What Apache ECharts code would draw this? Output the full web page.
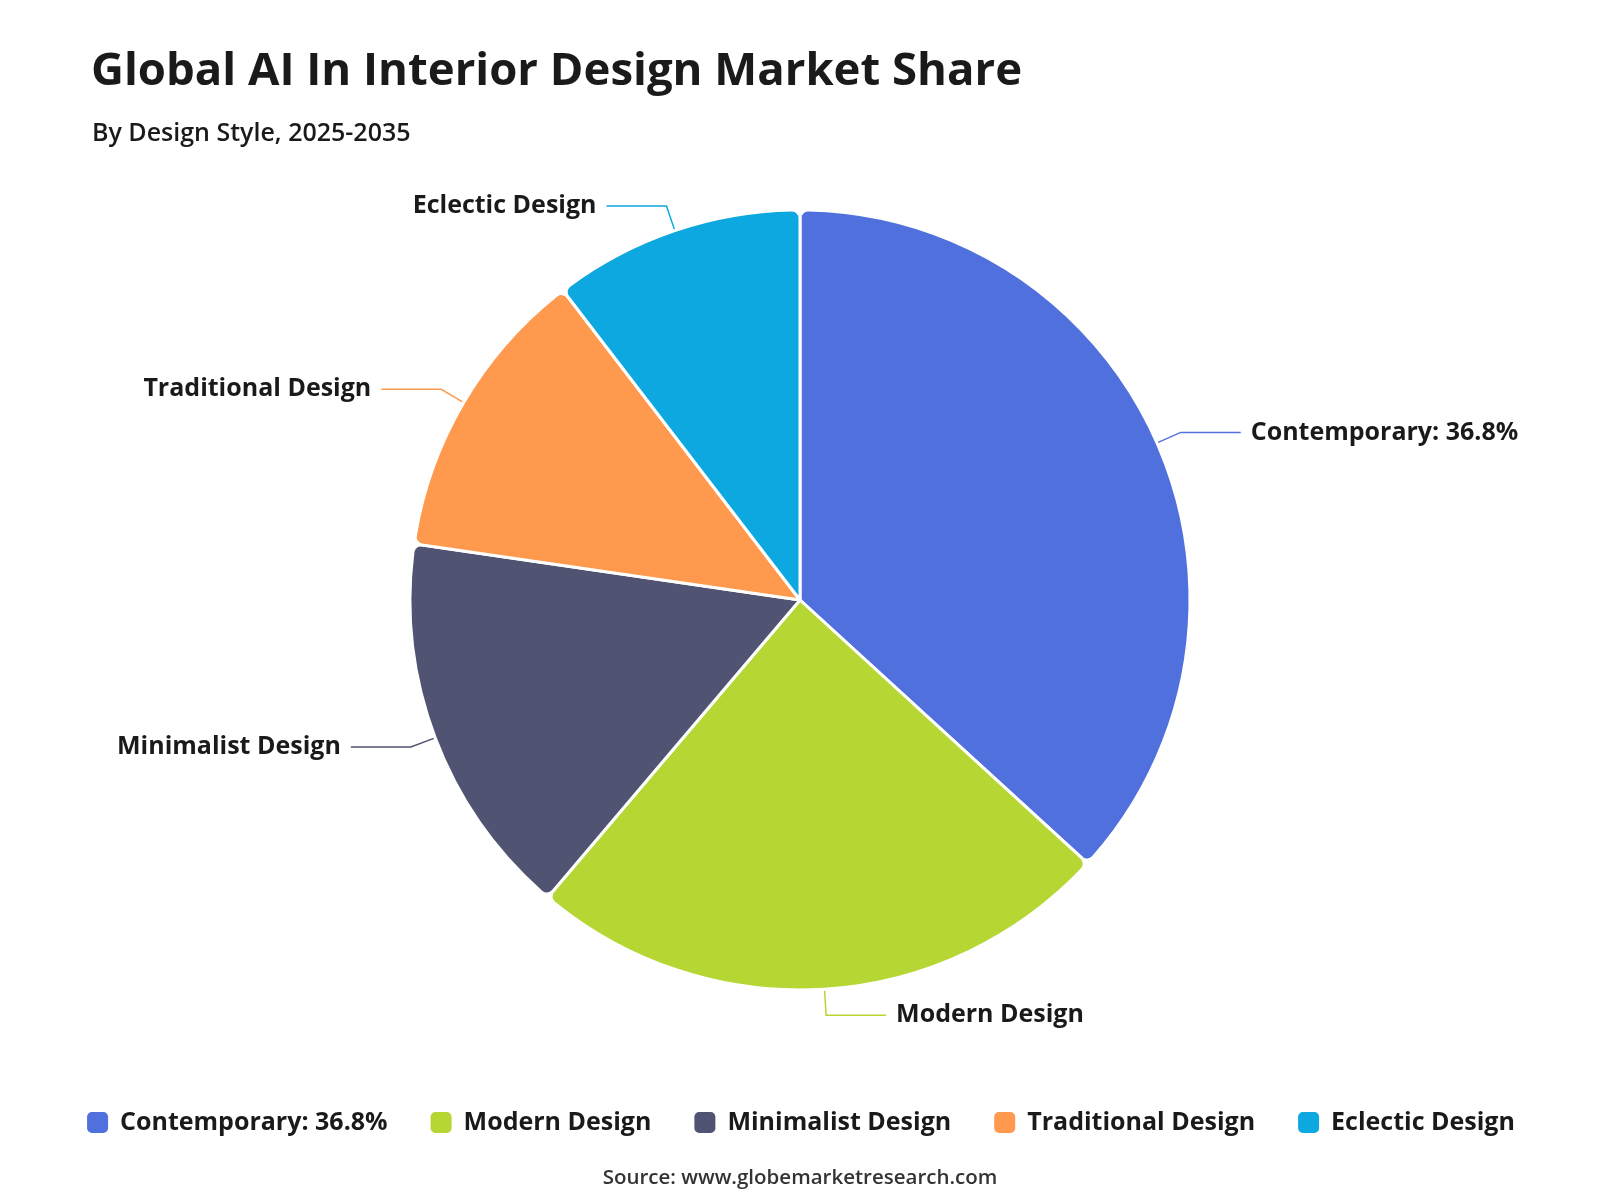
<!DOCTYPE html>
<html>
<head>
<meta charset="utf-8">
<title>Global AI In Interior Design Market Share</title>
<script src="https://cdn.jsdelivr.net/npm/echarts@6/dist/echarts.min.js"></script>
<style>
  html, body { margin: 0; padding: 0; background: #fff; }
  #main { width: 1600px; height: 1200px; }
</style>
</head>
<body>
<div id="main"></div>
<script>
// design styles and their share (%)
var styles = ['Contemporary: 36.8%', 'Modern Design', 'Minimalist Design', 'Traditional Design', 'Eclectic Design'];
var shares = [36.8, 24.4, 16.1, 12.3, 10.4];
var colors = ['#5070dd', '#b6d634', '#505372', '#ff994d', '#0ca8df'];

var FONT = '"Open Sans", "Noto Sans", sans-serif';

var pieData = [];
for (var i = 0; i < styles.length; i++) {
  pieData.push({ name: styles[i], value: shares[i] });
}

var chart = echarts.init(document.getElementById('main'), null, { renderer: 'canvas' });

var option = {
  backgroundColor: '#fff',
  color: colors,
  title: [{
    text: 'Global AI In Interior Design Market Share',
    left: 86,
    top: 44,
    textStyle: { fontFamily: FONT, fontSize: 45.5, fontWeight: 'bold', color: '#1a1a1a' }
  }, {
    text: 'By Design Style, 2025-2035',
    left: 87,
    top: 116,
    textStyle: { fontFamily: FONT, fontSize: 25, fontWeight: 600, color: '#1a1a1a' }
  }, {
    text: 'Source: www.globemarketresearch.com',
    left: 'center',
    top: 1163,
    textStyle: { fontFamily: FONT, fontSize: 20.5, fontWeight: 600, color: '#333' }
  }],
  legend: {
    data: styles,
    left: 'center',
    top: 1105,
    icon: 'roundRect',
    itemWidth: 23,
    itemHeight: 23,
    itemGap: 41,
    textStyle: { fontFamily: FONT, fontSize: 25, fontWeight: 'bold', color: '#1a1a1a', padding: [0, 0, 0, 6] }
  },
  series: [{
    type: 'pie',
    center: ['50%', '50%'],
    radius: '65%',
    startAngle: 90,
    clockwise: true,
    data: pieData,
    itemStyle: {
      borderColor: '#fff',
      borderWidth: 3,
      borderRadius: 8
    },
    label: {
      show: true,
      formatter: '{b}',
      fontFamily: FONT,
      fontSize: 25,
      fontWeight: 'bold',
      color: '#1a1a1a',
      distanceToLabelLine: 10
    },
    labelLine: {
      show: true,
      length: 26,
      length2: 60,
      lineStyle: { width: 1.5 }
    },
    emphasis: { disabled: true }
  }]
};

chart.setOption(option);
</script>
</body>
</html>
